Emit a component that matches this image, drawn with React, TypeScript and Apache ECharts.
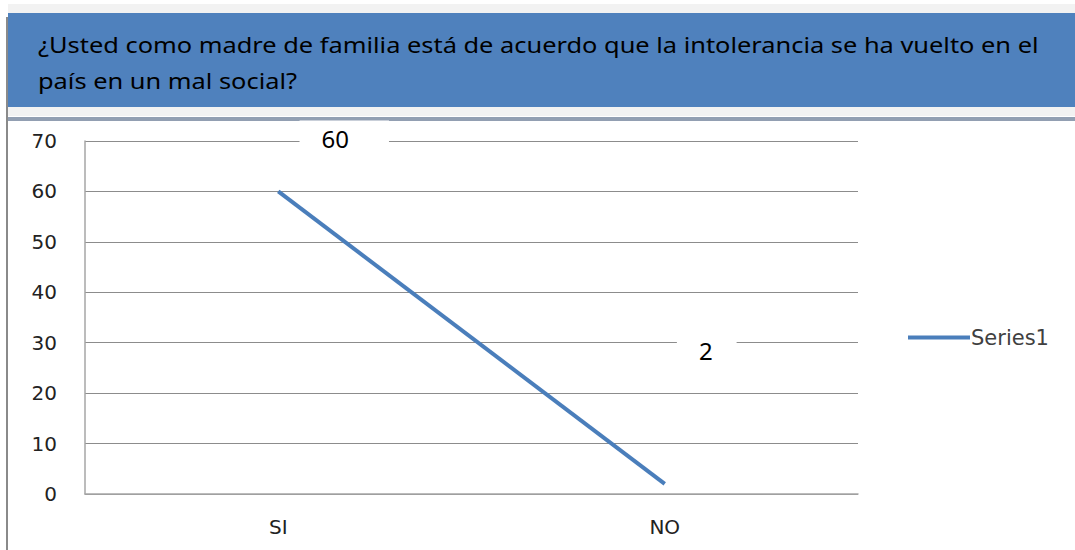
import React, { useEffect, useRef } from "react";
import * as echarts from "echarts";

const titleLines = [
  "¿Usted como madre de familia está de acuerdo que la intolerancia se ha vuelto en el",
  "país en un mal social?",
];
const categories = ["SI", "NO"];
const seriesName = "Series1";
const values = [60, 2];
const yTicks = { min: 0, max: 70, interval: 10 };

export default function App() {
  const ref = useRef<HTMLDivElement>(null);
  useEffect(() => {
    const chart = echarts.init(ref.current!, null, { renderer: "svg" });
    chart.setOption({
      animation: false,
      backgroundColor: "#ffffff",
      graphic: [
        { type: "rect", shape: { x: 8, y: 4, width: 1067, height: 112 }, style: { fill: "#f2f2f2" }, z: 0 },
        { type: "rect", shape: { x: 8, y: 13, width: 1067, height: 94 }, style: { fill: "#4f81bd" }, z: 1 },
        { type: "rect", shape: { x: 8, y: 117, width: 1067, height: 4 }, style: { fill: "#929fb2" }, z: 1 },
        { type: "rect", shape: { x: 6, y: 17, width: 2, height: 533 }, style: { fill: "#8a8a8a" }, z: 1 },
        {
          type: "text", x: 38, y: 45, z: 2, scaleX: 1.155,
          style: { text: titleLines[0], fill: "#000000", font: "22px 'Noto Sans'", verticalAlign: "middle" },
        },
        {
          type: "text", x: 38, y: 81, z: 2, scaleX: 1.155,
          style: { text: titleLines[1], fill: "#000000", font: "22px 'Noto Sans'", verticalAlign: "middle" },
        },
      ],
      legend: {
        data: [seriesName],
        left: 903,
        top: 322,
        itemWidth: 62,
        itemHeight: 4,
        itemGap: 0,
        icon: "rect",
        textStyle: { fontFamily: "DejaVu Sans", fontSize: 21, color: "#404040", padding: [0, 0, 0, -4] },
      },
      grid: { left: 85, right: 217, top: 141, bottom: 56, containLabel: false },
      xAxis: {
        type: "category",
        data: categories,
        boundaryGap: true,
        axisLine: { lineStyle: { color: "#a6a6a6", width: 1.5 } },
        axisTick: { show: false },
        axisLabel: { fontFamily: "DejaVu Sans", fontSize: 20, color: "#222", margin: 23 },
      },
      yAxis: {
        type: "value",
        min: yTicks.min,
        max: yTicks.max,
        interval: yTicks.interval,
        axisLine: { show: true, lineStyle: { color: "#a6a6a6", width: 1.5 } },
        axisTick: { show: false },
        splitLine: { lineStyle: { color: "#8c8c8c", width: 1 } },
        axisLabel: { fontFamily: "DejaVu Sans", fontSize: 20, color: "#222", margin: 28 },
      },
      series: [
        {
          name: seriesName,
          type: "line",
          data: [
            { value: values[0], label: { offset: [66, -31], padding: [6, 40, 6, 22] } },
            { value: values[1], label: { offset: [42, -111], padding: [6, 24, 6, 22] } },
          ],
          symbol: "circle",
          symbolSize: 0,
          showSymbol: true,
          lineStyle: { color: "#4a7ebb", width: 4 },
          itemStyle: { color: "#4a7ebb" },
          label: {
            show: true,
            position: "top",
            distance: 4,
            fontFamily: "'Noto Sans'",
            fontSize: 24,
            color: "#000",
            backgroundColor: "#ffffff",
          },
        },
      ],
    });
    return () => chart.dispose();
  }, []);
  return <div ref={ref} style={{ position: "absolute", left: 0, top: 0, width: 1075, height: 550 }} />;
}
